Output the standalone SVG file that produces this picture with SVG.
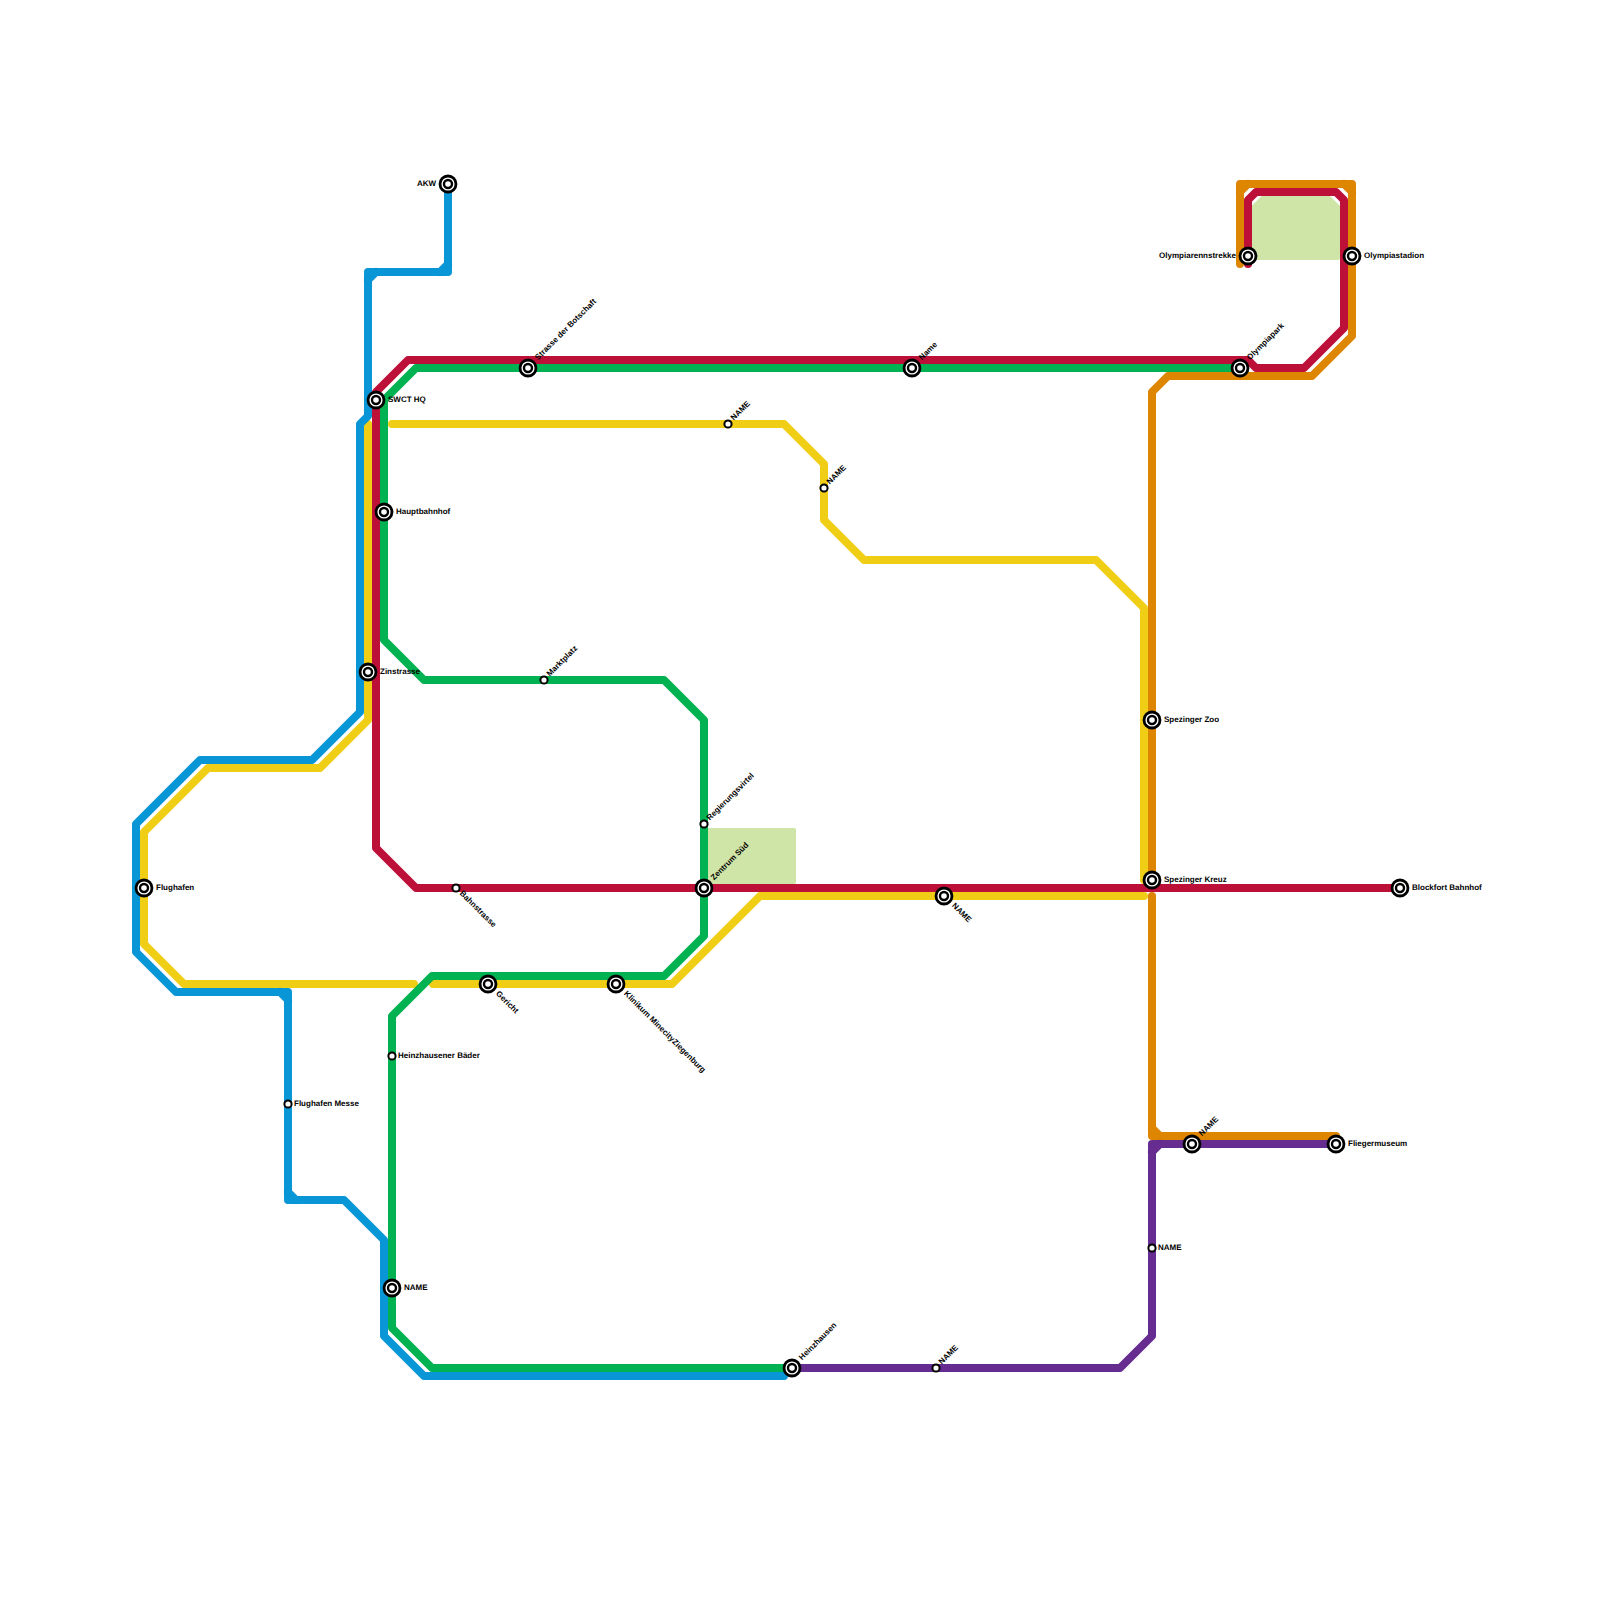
<svg xmlns="http://www.w3.org/2000/svg" width="1600" height="1600" viewBox="0 0 1600 1600">
<defs>
<style>
.park{fill:#cfe5a8}
.ln{fill:none;stroke-width:8;stroke-linejoin:round;stroke-linecap:round}
.y{stroke:#f0ce15}.o{stroke:#df8600}.p{stroke:#662c90}.b{stroke:#0896d7}.g{stroke:#00b251}.r{stroke:#bd1038}
.st{fill:#fff;stroke:#000;stroke-width:2.8}
.si{fill:#fff;stroke:#000;stroke-width:2.4}
.sm{fill:#fff;stroke:#000;stroke-width:2}
text{font-family:"Liberation Sans",Arial,sans-serif;font-size:8px;font-weight:700;fill:#000;text-rendering:geometricPrecision}
.e{text-anchor:end}
</style>
<g id="big"><circle class="st" r="8"/><circle class="si" r="4"/></g>
<circle id="small" class="sm" r="3.6"/>
</defs>
<rect width="1600" height="1600" fill="#fff"/>
<g id="parks">
<path class="park" d="M1261.700 196H1330L1340 206V258Q1340 260 1338 260H1252V205.500Z"/>
<path class="park" d="M704 828H794Q796 828 796 830V882Q796 884 794 884H704Z"/>
</g>
<g id="connectors">
<path class="ln y" d="M368 424V720L320 768H208L144 832V944L184 984H414"/>
<path class="ln y" d="M433 984H672L760 896H1144"/>
<path class="ln y" d="M392 424H784L824 464V520L864 560H1096L1144 608V880"/>
<path class="ln o" d="M1240 264V184H1352V336L1312 376H1168L1152 392V880"/>
<path class="ln o" d="M1240 192L1248 184M1344 184L1352 192"/>
<path class="ln o" d="M1152 896V1136H1336M1152 1128L1160 1136"/>
<path class="ln p" d="M792 1368H1120L1152 1336V1144H1336M1152 1152L1160 1144"/>
<path class="ln b" d="M448 184V272H368V416L360 424V712L312 760H200L136 824V952L176 992H288V1200H344L384 1240V1336L424 1376H784"/>
<path class="ln b" d="M440 272L448 264M368 280L376 272M280 992L288 1000M288 1192L296 1200"/>
<path class="ln g" d="M1240 368H416L384 400V640L424 680H664L704 720V936L664 976H432L392 1016V1328L432 1368H792"/>
<path class="ln r" d="M1248 264V200L1256 192H1336L1344 200V328L1304 368H1256L1248 360H408L376 392V848L416 888H1400"/>
</g>
<g id="st-akw"><use href="#big" x="448" y="184"/><text class="e" x="436" y="186">AKW</text></g>
<g id="st-swct"><use href="#big" x="376" y="400"/><text x="388" y="401.500">SWCT HQ</text></g>
<g id="st-haupt"><use href="#big" x="384" y="512"/><text x="396" y="513.500">Hauptbahnhof</text></g>
<g id="st-zin"><use href="#big" x="368" y="672"/><text x="380" y="673.500">Zinstrasse</text></g>
<g id="st-flug"><use href="#big" x="144" y="888"/><text x="156" y="889.500">Flughafen</text></g>
<g id="st-messe"><use href="#small" x="288" y="1104"/><text x="294" y="1105.500">Flughafen Messe</text></g>
<g id="st-bad"><use href="#small" x="392" y="1056"/><text x="398" y="1057.500">Heinzhausener Bäder</text></g>
<g id="st-name1"><use href="#big" x="392" y="1288"/><text x="404" y="1289.500">NAME</text></g>
<g id="st-strasse"><use href="#big" x="528" y="368"/><text transform="translate(528 368) rotate(-45)" x="12.500" y="1.800">Strasse der Botschaft</text></g>
<g id="st-name2"><use href="#small" x="728" y="424"/><text transform="translate(728 424) rotate(-45)" x="6.400" y="1.800">NAME</text></g>
<g id="st-name3"><use href="#small" x="824" y="488"/><text transform="translate(824 488) rotate(-45)" x="6.400" y="1.800">NAME</text></g>
<g id="st-markt"><use href="#small" x="544" y="680"/><text transform="translate(544 680) rotate(-45)" x="6.400" y="1.800">Marktplatz</text></g>
<g id="st-regierung"><use href="#small" x="704" y="824"/><text transform="translate(704 824) rotate(-45)" x="6.400" y="1.800">Regierungsvirtel</text></g>
<g id="st-zentrum"><use href="#big" x="704" y="888"/><text transform="translate(704 888) rotate(-45)" x="12.500" y="1.800">Zentrum Süd</text></g>
<g id="st-bahn"><use href="#small" x="456" y="888"/><text transform="translate(456 888) rotate(45)" x="6.400" y="1.800">Bahnstrasse</text></g>
<g id="st-gericht"><use href="#big" x="488" y="984"/><text transform="translate(488 984) rotate(45)" x="12.500" y="1.800">Gericht</text></g>
<g id="st-klinikum"><use href="#big" x="616" y="984"/><text transform="translate(616 984) rotate(45)" x="12.500" y="1.800">Klinikum MinecityZiegenburg</text></g>
<g id="st-heinz"><use href="#big" x="792" y="1368"/><text transform="translate(792 1368) rotate(-45)" x="12.500" y="1.800">Heinzhausen</text></g>
<g id="st-name4"><use href="#small" x="936" y="1368"/><text transform="translate(936 1368) rotate(-45)" x="6.400" y="1.800">NAME</text></g>
<g id="st-name5"><use href="#big" x="912" y="368"/><text transform="translate(912 368) rotate(-45)" x="12.500" y="1.800">Name</text></g>
<g id="st-name6"><use href="#big" x="944" y="896"/><text transform="translate(944 896) rotate(45)" x="12.500" y="1.800">NAME</text></g>
<g id="st-olpark"><use href="#big" x="1240" y="368"/><text transform="translate(1240 368) rotate(-45)" x="12.500" y="1.800">Olympiapark</text></g>
<g id="st-olrenn"><use href="#big" x="1248" y="256"/><text class="e" x="1236" y="257.500">Olympiarennstrekke</text></g>
<g id="st-olstad"><use href="#big" x="1352" y="256"/><text x="1364" y="257.500">Olympiastadion</text></g>
<g id="st-zoo"><use href="#big" x="1152" y="720"/><text x="1164" y="721.500">Spezinger Zoo</text></g>
<g id="st-kreuz"><use href="#big" x="1152" y="880"/><text x="1164" y="881.500">Spezinger Kreuz</text></g>
<g id="st-block"><use href="#big" x="1400" y="888"/><text x="1412" y="889.500">Blockfort Bahnhof</text></g>
<g id="st-flieger"><use href="#big" x="1336" y="1144"/><text x="1348" y="1145.500">Fliegermuseum</text></g>
<g id="st-name7"><use href="#big" x="1192" y="1144"/><text transform="translate(1192 1144) rotate(-45)" x="12.500" y="1.800">NAME</text></g>
<g id="st-name8"><use href="#small" x="1152" y="1248"/><text x="1158" y="1249.500">NAME</text></g>
</svg>
